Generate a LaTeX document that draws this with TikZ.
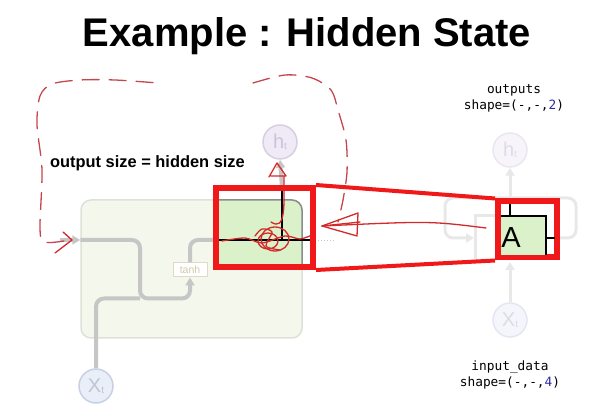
\documentclass[tikz,border=0pt]{standalone}
\usepackage{fontspec}
\setmainfont{Liberation Sans}
\newfontfamily\codefont{DejaVu Sans Mono}
\usetikzlibrary{positioning,arrows.meta,calc}
\definecolor{mark}{HTML}{F01818}
\definecolor{pen}{HTML}{D22A2A}
\definecolor{dashpen}{HTML}{C4474F}
\definecolor{wirec}{HTML}{C6C6C6}
\definecolor{faintc}{HTML}{E8E8E8}
\definecolor{cellbg}{HTML}{F4F7EC}
\definecolor{cellbd}{HTML}{DFE0DA}
\definecolor{hibg}{HTML}{DAF1C9}
\definecolor{hibd}{HTML}{8C8C8C}
\definecolor{hbg}{HTML}{EFEAF5}
\definecolor{hbd}{HTML}{D6CFE2}
\definecolor{htx}{HTML}{CBC3DA}
\definecolor{xbg}{HTML}{E9EEF8}
\definecolor{xbd}{HTML}{C8D0E3}
\definecolor{xtx}{HTML}{BFC5D4}
\definecolor{tanhc}{HTML}{D2C8AE}
\definecolor{numblue}{HTML}{2B2BA6}
\newcommand{\subt}{\raisebox{-0.1ex}{\fontsize{10pt}{11pt}\selectfont t}}
\tikzset{
  arr/.style={-{Triangle[length=8pt,width=9pt]}},
  cell/.style={draw=cellbd, line width=1.5pt, fill=cellbg, rounded corners=10pt,
               minimum width=221pt, minimum height=138pt},
  wire/.style={draw=wirec, line width=4pt},
  faintw/.style={draw=faintc, line width=3pt},
  tanhbox/.style={draw=tanhc!70, fill=white, line width=1pt, text=tanhc, font=\fontsize{10.5pt}{12pt}\selectfont,
                  minimum width=34pt, minimum height=14pt, inner sep=0pt},
  hcirc/.style={circle, draw=hbd, fill=hbg, line width=1.5pt, minimum size=34pt, inner sep=0pt,
                text=htx, font=\fontsize{20pt}{22pt}\selectfont},
  xcirc/.style={hcirc, draw=xbd, fill=xbg, text=xtx},
  fhcirc/.style={hcirc, draw=hbd!50, fill=hbg!50, text=htx!60},
  fxcirc/.style={xcirc, draw=xbd!50, fill=xbg!50, text=xtx!60},
  zoombox/.style={draw=mark, line width=6pt, inner sep=0pt},
  zoomline/.style={draw=mark, line width=4pt},
  pen/.style={draw=pen, line width=1.3pt, line cap=round, line join=round},
  dashloop/.style={draw=dashpen, line width=1.3pt, line cap=round, dash pattern=on 17pt off 10pt},
  ttl/.style={font=\fontsize{40pt}{46pt}\selectfont\bfseries},
  lbl/.style={font=\fontsize{16.4pt}{19pt}\selectfont\bfseries},
  code/.style={font=\fontsize{12.8pt}{15pt}\selectfont\codefont, inner sep=0pt},
}
\begin{document}
\begin{tikzpicture}[x=1pt, y=-1pt]
  \useasboundingbox (0,0) rectangle (611,419);
  \node[ttl, anchor=base] (title) at (307,47) {Example : Hidden State};
  \node[lbl, anchor=west, inner sep=0pt] (osize) at (50,163) {output size = hidden size};

  % left cell
  \node[cell] (cell) at (191.5,269) {};
  \node[tanhbox] (tanh) at (190,270) {tanh};
  \node[hcirc] (hl) at (280,142) {h\subt};
  \node[xcirc] (xl) at (96,386) {X\subt};
  \coordinate (hin) at (60,240);
  \coordinate (join) at ($(tanh.south)+(-50,21)$);
  \draw[wire, arr] (hin) -- (hin -| cell.west);
  \draw[wire, rounded corners=8pt, arr] (hin -| cell.west) -| (join) -| (tanh.south);
  \draw[wire, rounded corners=8pt] (xl.north) |- (join);
  \draw[wire, rounded corners=8pt] (tanh.north) |- (222,240);
  \draw[wire, arr] (282,188) -- (hl.south);
  \draw[draw=wirec, line width=1pt, dotted] (318,241) -- (334,241);

  % highlighted part of the cell
  \begin{scope}
    \clip (219,191) rectangle (310,264);
    \node[cell, fill=hibg, draw=hibd] at (cell.center) {};
    \draw[line width=2pt] (219,240) -- (310,240);
    \draw[line width=2pt] (282,191) -- (282,240);
  \end{scope}

  % right side, folded rnn
  \node[fhcirc] (hr) at (510,150) {h\subt};
  \node[fxcirc] (xr) at (510,320) {X\subt};
  \draw[faintw, rounded corners=8pt, arr] (554,238) -| (576,198) -| (445,238) -- (474,238);
  \draw[faintw] (475,263) |- (520,216);
  \draw[faintw, arr] (510,198) -- (hr.south);
  \draw[faintw, arr] (xr.north) -- (510,262);

  % zoom boxes
  \node[zoombox, minimum width=97pt, minimum height=79pt] (zl) at (264.5,227.5) {};
  \node[zoombox, fill=white, minimum width=59pt, minimum height=56pt] (zr) at (527.5,229.5) {};
  \draw[zoomline] (zl.north east) -- (zr.north west);
  \draw[zoomline] (zl.south east) -- (zr.south west);
  \fill[hibg] (501,216) rectangle (546,255);
  \draw[line width=1.5pt] (501,216) -- (546,216) -- (546,255);
  \draw[line width=1.5pt] (510,204) -- (510,216);
  \draw[line width=1.5pt] (546,238) -- (555,238);
  \node[font=\fontsize{29pt}{32pt}\selectfont, inner sep=0pt] (acell) at (511,238) {A};

  \node[code] (outl) at (514,90) {outputs};
  \node[code] (outs) at (514,106) {shape=(-,-,\textcolor{numblue}{2})};
  \node[code] (inl) at (510,367) {input\_data};
  \node[code] (ins) at (510,383) {shape=(-,-,\textcolor{numblue}{4})};

  % hand drawn marks
  \draw[dashloop] plot[smooth] coordinates {(64,241) (44,242) (40,228) (42,170) (37,125) (40,96) (52,84) (80,80) (115,80) (158,83)};
  \draw[dashloop] plot[smooth] coordinates {(253,83) (285,75) (312,78) (331,90) (338,110) (346,140) (347,172) (343,200) (338,222)};
  \draw[pen] (63,232) -- (72,240) -- (55,253);
  \draw[pen] (486,228) .. controls (430,221) .. (322,226);
  \draw[pen] (358,213) -- (322,226) -- (357,236) -- cycle;
  \draw[pen] (322,226) -- (360,222);
  \draw[pen] (271,222) .. controls (286,232) and (284,205) .. (284,176);
  \draw[pen] (269,177) -- (277,163) -- (286,176) -- (271,176);
  \draw[pen] (275,239) ellipse (14pt and 12pt);
  \draw[pen] (268,241) ellipse (10pt and 8pt);
  \draw[pen] plot[smooth] coordinates {(222,241) (245,238) (262,243) (285,236) (300,239) (312,235)};
  \draw[pen] plot[smooth] coordinates {(255,236) (262,229) (272,232) (266,246) (280,250)};
\end{tikzpicture}
\end{document}
